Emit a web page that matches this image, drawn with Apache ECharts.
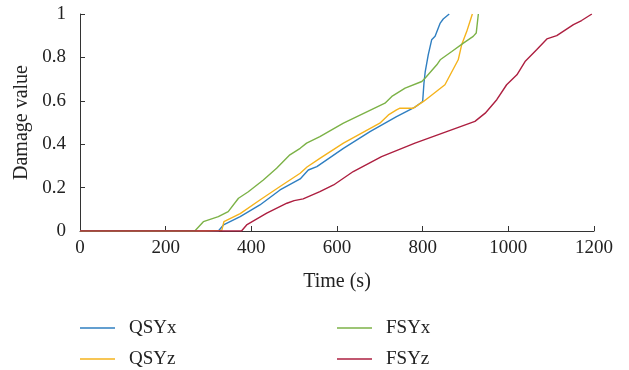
<!DOCTYPE html>
<html>
<head>
<meta charset="utf-8">
<script src="https://cdn.jsdelivr.net/npm/echarts@6/dist/echarts.min.js"></script>
<style>
  html, body { margin: 0; padding: 0; background: #fff; }
  #chart { width: 629px; height: 370px; }
</style>
</head>
<body>
<div id="chart"></div>
<script>
// damage value vs time, [time (s), damage]
const qsyx = [[0,0],[323,0],[335,0.028],[374,0.066],[420,0.12],[467,0.189],[514,0.24],[533,0.281],[553,0.297],[615,0.381],[677,0.458],[739,0.527],[782,0.571],[800,0.597],[803,0.681],[806,0.735],[813,0.812],[821,0.881],[829,0.897],[841,0.958],[848,0.977],[862,1.0]];
const qsyz = [[0,0],[292,0],[331,0.003],[336,0.043],[374,0.08],[420,0.143],[467,0.205],[514,0.266],[530,0.295],[560,0.335],[615,0.405],[700,0.497],[720,0.535],[739,0.558],[747,0.566],[778,0.566],[802,0.597],[852,0.674],[883,0.789],[891,0.858],[903,0.92],[916,1.0]];
const fsyx = [[0,0],[268,0],[288,0.043],[323,0.066],[346,0.089],[370,0.151],[393,0.181],[428,0.235],[459,0.289],[490,0.351],[514,0.381],[529,0.405],[560,0.435],[615,0.497],[712,0.589],[728,0.62],[759,0.658],[798,0.689],[806,0.705],[833,0.766],[841,0.789],[868,0.827],[895,0.866],[918,0.897],[925,0.912],[930,1.0]];
const fsyz = [[0,0],[377,0],[389,0.028],[436,0.082],[483,0.128],[500,0.14],[521,0.148],[560,0.181],[592,0.212],[638,0.274],[704,0.343],[782,0.405],[856,0.458],[922,0.505],[946,0.543],[973,0.605],[996,0.674],[1020,0.72],[1039,0.781],[1066,0.835],[1090,0.885],[1113,0.9],[1152,0.951],[1171,0.97],[1195,1.0]];

const seriesNames = ['QSYx', 'QSYz', 'FSYx', 'FSYz'];
const seriesColors = ['#2f7fc1', '#f5b31c', '#7cb247', '#ad1f40'];
const seriesData = [qsyx, qsyz, fsyx, fsyz];

const FONT = "'Liberation Serif', 'DejaVu Serif', serif";
const AXIS_COLOR = '#333';

// legend slot for each series: [left, top]
const legendSlots = [[80, 317], [80, 348], [337, 317], [337, 348]];

const chart = echarts.init(document.getElementById('chart'));

const option = {
  animation: false,
  backgroundColor: '#fff',
  textStyle: { fontFamily: FONT },
  grid: { left: 80, right: 35, top: 14, bottom: 139, containLabel: false },
  legend: seriesNames.map((name, i) => ({
    left: legendSlots[i][0],
    top: legendSlots[i][1],
    padding: 0,
    data: [name],
    icon: 'rect',
    itemWidth: 35,
    itemHeight: 1.5,
    textStyle: { fontFamily: FONT, fontSize: 19, color: '#222', lineHeight: 22, padding: [0, 0, 0, 9] }
  })),
  xAxis: {
    type: 'value',
    min: 0,
    max: 1200,
    interval: 200,
    name: 'Time (s)',
    nameLocation: 'middle',
    nameGap: 41,
    nameTextStyle: { fontFamily: FONT, fontSize: 20, color: '#222' },
    axisLine: { lineStyle: { color: AXIS_COLOR, width: 1 } },
    axisTick: { inside: true, length: 5, lineStyle: { color: AXIS_COLOR } },
    axisLabel: { fontFamily: FONT, fontSize: 19, color: '#222', margin: 8, formatter: v => String(v) },
    splitLine: { show: false }
  },
  yAxis: {
    type: 'value',
    min: 0,
    max: 1,
    interval: 0.2,
    name: 'Damage value',
    nameLocation: 'middle',
    nameGap: 43,
    nameTextStyle: { fontFamily: FONT, fontSize: 20, color: '#222' },
    axisLine: { show: true, lineStyle: { color: AXIS_COLOR, width: 1 } },
    axisTick: { show: true, inside: true, length: 5, lineStyle: { color: AXIS_COLOR } },
    axisLabel: { fontFamily: FONT, fontSize: 19, color: '#222', margin: 14 },
    splitLine: { show: false }
  },
  series: seriesNames.map((name, i) => ({
    name,
    type: 'line',
    data: seriesData[i],
    symbol: 'none',
    smooth: false,
    lineStyle: { color: seriesColors[i], width: 1.4 },
    itemStyle: { color: seriesColors[i] }
  }))
};

chart.setOption(option);
</script>
</body>
</html>
